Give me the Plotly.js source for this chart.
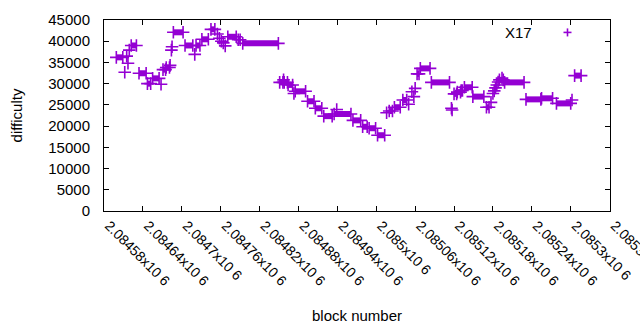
<!DOCTYPE html>
<html>
<head>
<meta charset="utf-8">
<script src="https://cdn.plot.ly/plotly-3.0.1.min.js"></script>
<style>html,body{margin:0;padding:0;background:#fff;}#chart{width:640px;height:330px;}</style>
</head>
<body>
<div id="chart"></div>
<script>
// Runs of consecutive blocks with the same difficulty (start block, end block, value)
const runStart = [2084599,2084612,2084615,2084617,2084619,2084622,2084634,2084647,2084655,2084668,
  2084671,2084676,2084682,2084684,2084685,2084687,2084705,2084720,2084722,2084731,
  2084745,2084755,2084758,2084761,2084764,2084767,2084771,2084787,2084794,2084851,
  2084857,2084858,2084864,2084873,2084875,2084894,2084906,2084919,2084935,2084939,
  2084964,2084979,2084989,2085002,2085016,2085020,2085028,2085041,2085050,2085055,
  2085058,2085060,2085063,2085068,2085085,2085116,2085117,2085120,2085125,2085131,
  2085136,2085149,2085170,2085177,2085180,2085182,2085184,2085186,2085188,2085190,
  2085194,2085198,2085231,2085255,2085278,2085302,2085306];
const runEnd = [2084609,2084612,2084615,2084617,2084619,2084630,2084645,2084652,2084665,2084668,
  2084675,2084681,2084682,2084684,2084685,2084702,2084717,2084720,2084728,2084741,
  2084751,2084755,2084758,2084761,2084764,2084767,2084784,2084790,2084849,2084856,
  2084857,2084863,2084871,2084873,2084891,2084904,2084916,2084932,2084961,2084939,
  2084976,2084986,2084999,2085013,2085016,2085025,2085037,2085047,2085050,2085055,
  2085058,2085060,2085066,2085083,2085113,2085116,2085117,2085124,2085130,2085133,
  2085148,2085166,2085174,2085177,2085180,2085182,2085184,2085186,2085188,2085196,
  2085194,2085228,2085254,2085272,2085300,2085302,2085316];
const runValue = [36200,32700,36500,34800,37900,39000,32450,30000,31250,29850,
  33300,33800,34300,37900,38700,42100,39000,36900,39000,40450,
  42800,41700,40700,40000,39600,38900,41050,40350,39500,30300,
  30900,30300,29700,27700,28200,25850,24200,22350,22850,23900,
  21350,19850,19500,17850,23150,23550,24450,26150,25150,28100,
  26950,28900,32300,33600,30300,24200,23800,27600,28000,28400,
  29150,26950,24450,25600,27700,28300,29000,29700,30400,30900,
  31300,30300,26300,26550,25350,26150,31900];

const seriesName = "X17";
const xTickVals = [2084580,2084640,2084700,2084760,2084820,2084880,2084940,2085000,2085060,2085120,2085180,2085240,2085300,2085360];
const xTickText = ["2.08458x10 6","2.08464x10 6","2.0847x10 6","2.08476x10 6","2.08482x10 6","2.08488x10 6","2.08494x10 6",
  "2.085x10 6","2.08506x10 6","2.08512x10 6","2.08518x10 6","2.08524x10 6","2.0853x10 6","2.08536x10 6"];
const yTickVals = [0,5000,10000,15000,20000,25000,30000,35000,40000,45000];
const yTickText = ["0","5000","10000","15000","20000","25000","30000","35000","40000","45000"];

const xs = [], ys = [];
for (let i = 0; i < runStart.length; i++) {
  xs.push(runStart[i]); ys.push(runValue[i]);
  if (runEnd[i] !== runStart[i]) { xs.push(runEnd[i]); ys.push(runValue[i]); }
  xs.push(null); ys.push(null);
}

const purple = "#9400d3";
const font = {family: "Liberation Sans, Arial, sans-serif", size: 15, color: "#000"};
const tickFontX = {family: "Liberation Sans, Arial, sans-serif", size: 14, color: "#000"};

const trace = {
  x: xs, y: ys, type: "scatter", mode: "lines+markers", name: seriesName,
  connectgaps: false, showlegend: false,
  line: {color: purple, width: 6},
  marker: {symbol: "cross-thin-open", size: 9, color: purple, line: {color: purple, width: 1.6}},
  hoverinfo: "x+y"
};

const axisCommon = {
  showline: true, linecolor: "#000", linewidth: 1, mirror: "ticks",
  ticks: "inside", ticklen: 5, tickcolor: "#000", tickwidth: 1,
  showgrid: false, zeroline: false, tickfont: font
};

const layout = {
  width: 640, height: 330,
  margin: {l: 104, r: 30, t: 20, b: 119},
  paper_bgcolor: "#fff", plot_bgcolor: "#fff",
  font: font,
  xaxis: Object.assign({}, axisCommon, {
    range: [2084580, 2085360.6], tickmode: "array", tickvals: xTickVals, ticktext: xTickText,
    tickangle: 45, ticklabelstandoff: 0, ticklabelshift: 5, tickfont: tickFontX,
    ticklabeloverflow: "allow",
    title: {text: "block number", font: font, standoff: 22}
  }),
  yaxis: Object.assign({}, axisCommon, {
    range: [0, 45000], tickmode: "array", tickvals: yTickVals, ticktext: yTickText,
    ticklabelstandoff: 10,
    title: {text: "difficulty", font: font, standoff: 22}
  }),
  annotations: [{
    text: seriesName, xref: "paper", yref: "paper", x: 0.82, y: 0.937,
    xanchor: "center", yanchor: "middle", showarrow: false, font: font
  }],
  shapes: [
    {type: "line", xref: "paper", yref: "paper", x0: 0.9081, x1: 0.9239, y0: 0.935, y1: 0.935, line: {color: purple, width: 1.6}},
    {type: "line", xref: "paper", yref: "paper", x0: 0.916, x1: 0.916, y0: 0.914, y1: 0.956, line: {color: purple, width: 1.6}}
  ]
};

Plotly.newPlot("chart", [trace], layout, {displayModeBar: false, staticPlot: true});
</script>
</body>
</html>
